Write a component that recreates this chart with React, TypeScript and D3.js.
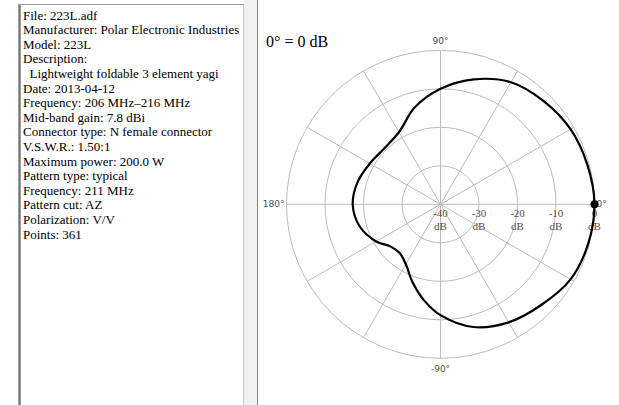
import * as d3 from 'd3';

// antenna info shown in the left panel
const infoLines = [
  'File: 223L.adf',
  'Manufacturer: Polar Electronic Industries',
  'Model: 223L',
  'Description:',
  '  Lightweight foldable 3 element yagi',
  'Date: 2013-04-12',
  'Frequency: 206 MHz\u2013216 MHz',
  'Mid-band gain: 7.8 dBi',
  'Connector type: N female connector',
  'V.S.W.R.: 1.50:1',
  'Maximum power: 200.0 W',
  'Pattern type: typical',
  'Frequency: 211 MHz',
  'Pattern cut: AZ',
  'Polarization: V/V',
  'Points: 361',
];

// pattern (degrees, dB relative to max)
const patternAngles = [0, 15, 30, 45, 60, 75, 90, 105, 120, 135, 150, 165, 180, 195, 210, 220, 230, 240, 250, 260, 270, 285, 300, 315, 330, 345];
const patternGain = [0, -0.5, -1.0, -2.1, -3.4, -6.4, -10, -14, -18.4, -19.4, -18.8, -17.7, -17.2, -18.2, -20.7, -23.0, -23.5, -22.0, -18.6, -14.8, -11.2, -7.0, -4.6, -3.0, -1.0, -0.3];

const dbTicks = [-40, -30, -20, -10, 0];
const spokeAngles = d3.range(0, 360, 30);
const angleLabels = [
  { deg: 90, text: '90°' },
  { deg: 180, text: '180°' },
  { deg: 270, text: '-90°' },
  { deg: 0, text: '0°' },
];

const W = 619;
const H = 405;
const cx = 440.5;
const cy = 204.3;
const R = 154;
const serif = 'Liberation Serif, DejaVu Serif, serif';

export default function App() {
  const r = d3.scaleLinear().domain([-40, 0]).range([0, R]);
  const toRad = (deg: number) => (deg * Math.PI) / 180;

  const pts = patternAngles.map((a, i) => ({ a, g: patternGain[i] }));
  const line = d3
    .lineRadial<{ a: number; g: number }>()
    .angle(d => toRad(90 - d.a))
    .radius(d => r(d.g))
    .curve(d3.curveCatmullRomClosed.alpha(0.5));

  const grid = '#bcbcbc';
  const labelFill = '#505050';

  return (
    <svg width={W} height={H} style={{ position: 'absolute', left: 0, top: 0, background: '#fff' }}>
      {/* left info panel */}
      <rect x={19.5} y={4.5} width={224} height={H} fill="#fff" stroke="#c8c8c8" strokeWidth={1} />
      <line x1={19.5} y1={4} x2={19.5} y2={H} stroke="#7a7a7a" strokeWidth={2.5} />
      <line x1={19} y1={4.5} x2={244} y2={4.5} stroke="#a0a0a0" strokeWidth={1} />
      <rect x={244} y={0} width={14} height={H} fill="#f0f0f0" />
      <line x1={257.5} y1={0} x2={257.5} y2={H} stroke="#8a8a8a" strokeWidth={1} />
      <g style={{ fontFamily: serif }} fontSize={13} fill="#000">
        {infoLines.map((t, i) => (
          <text key={i} x={23} y={19.5 + i * 14.6} style={{ whiteSpace: 'pre' }}>
            {t}
          </text>
        ))}
      </g>

      <text x={266} y={47} style={{ fontFamily: serif }} fontSize={16} fill="#000">
        0° = 0 dB
      </text>

      <g transform={`translate(${cx},${cy})`}>
        {dbTicks.slice(1).map(t => (
          <circle key={t} r={r(t)} fill="none" stroke={grid} strokeWidth={1} />
        ))}
        {spokeAngles.map(a => (
          <line
            key={a}
            x1={0}
            y1={0}
            x2={R * Math.cos(toRad(a))}
            y2={-R * Math.sin(toRad(a))}
            stroke={grid}
            strokeWidth={1}
          />
        ))}
        {dbTicks.map(t => (
          <g key={t} style={{ fontFamily: serif }} fontSize={11} fill={labelFill} textAnchor="middle">
            <text x={r(t)} y={13}>{t}</text>
            <text x={r(t)} y={26}>dB</text>
          </g>
        ))}
        {angleLabels.map(l => {
          const x = (R + 2) * Math.cos(toRad(l.deg));
          const y = -(R + 2) * Math.sin(toRad(l.deg));
          const anchor = l.deg === 180 ? 'end' : l.deg === 0 ? 'start' : 'middle';
          const dy = l.deg === 90 ? -4 : l.deg === 270 ? 12 : 3;
          return (
            <text
              key={l.deg}
              x={x}
              y={y + dy}
              textAnchor={anchor}
              style={{ fontFamily: 'DejaVu Sans, sans-serif' }}
              fontSize={9}
              fill={labelFill}
            >
              {l.text}
            </text>
          );
        })}
        <path d={line(pts) ?? ''} fill="none" stroke="#000" strokeWidth={2.2} />
        <circle cx={r(patternGain[0])} cy={0} r={4} fill="#000" />
      </g>
    </svg>
  );
}
